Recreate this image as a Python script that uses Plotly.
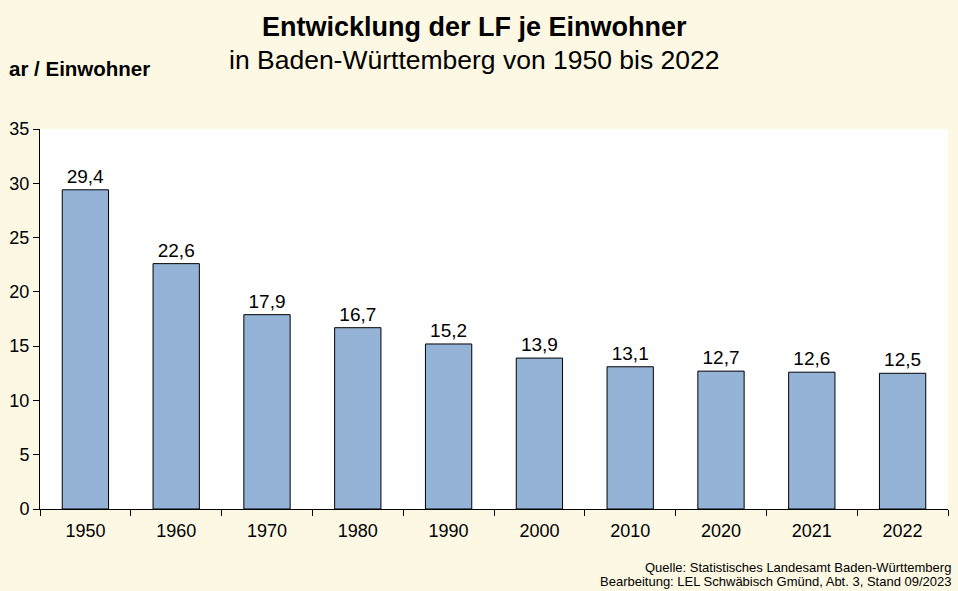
import plotly.graph_objects as go

years = ['1950', '1960', '1970', '1980', '1990', '2000', '2010', '2020', '2021', '2022']
lf_per_person = [29.4, 22.6, 17.9, 16.7, 15.2, 13.9, 13.1, 12.7, 12.6, 12.5]
y_ticks = [0, 5, 10, 15, 20, 25, 30, 35]

bg_page = '#FCF8E4'
bar_fill = '#95B3D7'

labels = [str(v).replace('.', ',') for v in lf_per_person]

fig = go.Figure()

fig.add_trace(
    go.Bar(
        x=years,
        y=lf_per_person,
        text=labels,
        textposition='outside',
        textfont=dict(size=19, color='#000'),
        cliponaxis=False,
        marker=dict(color=bar_fill, line=dict(color='#000', width=1)),
        hoverinfo='x+y',
    )
)

fig.update_layout(
    width=958,
    height=591,
    paper_bgcolor=bg_page,
    plot_bgcolor='#FFFFFF',
    font=dict(family='Liberation Sans, Arial, sans-serif', color='#000'),
    margin=dict(l=40, r=10, t=129, b=82, pad=0),
    bargap=0.49,
    showlegend=False,
)

fig.update_xaxes(
    type='category',
    tickson='boundaries',
    ticks='outside',
    ticklen=6,
    tickcolor='#000',
    tickfont=dict(size=18),
    ticklabelstandoff=5,
    showline=True,
    linecolor='#000',
    linewidth=1,
    showgrid=False,
    zeroline=False,
)

fig.update_yaxes(
    range=[0, 35],
    tickvals=y_ticks,
    ticks='outside',
    ticklen=6,
    tickcolor='#000',
    tickfont=dict(size=18),
    showline=True,
    linecolor='#000',
    linewidth=1,
    showgrid=False,
    zeroline=False,
)

# titles
fig.add_annotation(
    text='<b>Entwicklung der LF je Einwohner</b>',
    xref='paper', yref='paper', x=0.478, y=1,
    yshift=102, xanchor='center', yanchor='middle',
    showarrow=False, font=dict(size=27),
)
fig.add_annotation(
    text='in Baden-Württemberg von 1950 bis 2022',
    xref='paper', yref='paper', x=0.478, y=1,
    yshift=69, xanchor='center', yanchor='middle',
    showarrow=False, font=dict(size=26.5),
)
fig.add_annotation(
    text='<b>ar / Einwohner</b>',
    xref='paper', yref='paper', x=0, y=1,
    xshift=-33, yshift=61, xanchor='left', yanchor='middle',
    showarrow=False, font=dict(size=20.5),
)

# source
fig.add_annotation(
    text='Quelle: Statistisches Landesamt Baden-Württemberg',
    xref='paper', yref='paper', x=1, y=0,
    xshift=5, yshift=-58, xanchor='right', yanchor='middle',
    showarrow=False, font=dict(size=13),
)
fig.add_annotation(
    text='Bearbeitung: LEL Schwäbisch Gmünd, Abt. 3, Stand 09/2023',
    xref='paper', yref='paper', x=1, y=0,
    xshift=5, yshift=-72, xanchor='right', yanchor='middle',
    showarrow=False, font=dict(size=13),
)

fig.write_html("out.html", config={'displayModeBar': False},
               post_script="document.body.style.margin='0';")
